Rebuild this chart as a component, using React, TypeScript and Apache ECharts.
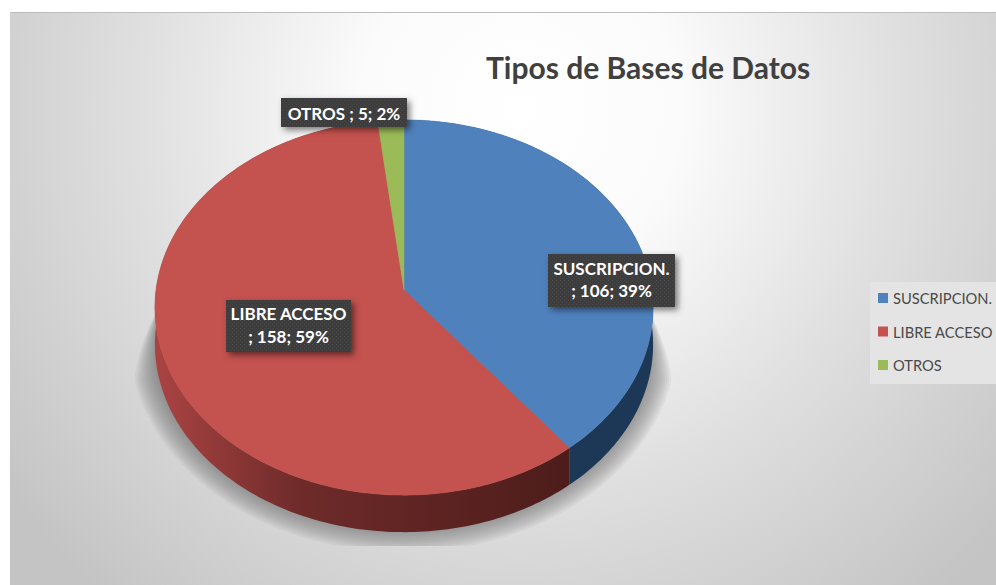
import React, { useEffect, useRef } from "react";
import * as echarts from "echarts";

const categories = ["SUSCRIPCION.", "LIBRE ACCESO", "OTROS"];
const values = [106, 158, 5];
const percents = [39, 59, 2];
const topColors = ["#4f81bd", "#c4524f", "#9bbb59"];

const FONT = "Lato, Carlito, Calibri, sans-serif";
const APEX_X = 404;
const APEX_Y = 290;
const SCALE_X = 248;
const SCALE_Y = 186;
const PERSPECTIVE = 0.0933;
const DEPTH = 37;

const labelBoxes = [
  { x: 548, y: 254, w: 127, h: 53, dy: -1 },
  { x: 226, y: 300, w: 125, h: 52, dy: -1 },
  { x: 281, y: 98, w: 126, h: 29, dy: 1 },
];

const total = values.reduce((a, b) => a + b, 0);

function project(angleDeg: number, dy = 0): number[] {
  const a = (angleDeg * Math.PI) / 180;
  const u = Math.sin(a);
  const v = -Math.cos(a);
  const d = 1 - PERSPECTIVE * v;
  return [APEX_X + (SCALE_X * u) / d, APEX_Y + (SCALE_Y * v) / d + dy];
}

function arc(start: number, end: number, dy = 0): number[][] {
  const pts: number[][] = [];
  const n = Math.max(2, Math.ceil(end - start));
  for (let i = 0; i <= n; i++) pts.push(project(start + ((end - start) * i) / n, dy));
  return pts;
}

// Soft shadow outline: tapers into the pie's edge towards the top, flat at the bottom.
function shadowOutline(cx: number, cy: number, rx: number, ry: number, yMax: number): number[][] {
  const pts: number[][] = [];
  for (let i = 0; i < 180; i++) {
    const a = (i * Math.PI) / 90;
    const y = cy + ry * Math.sin(a);
    const t = Math.min(1, Math.max(0, (y - 300) / 80));
    const r = 244 + (rx - 244) * t;
    pts.push([cx + r * Math.cos(a), Math.min(yMax, y)]);
  }
  return pts;
}

function makeDots(): HTMLCanvasElement {
  const c = document.createElement("canvas");
  c.width = 4;
  c.height = 4;
  const g = c.getContext("2d")!;
  g.fillStyle = "#3c3c3c";
  g.fillRect(0, 0, 4, 4);
  g.fillStyle = "#4a4a4a";
  g.fillRect(0, 0, 1, 1);
  g.fillRect(2, 2, 1, 1);
  return c;
}

export default function App() {
  const ref = useRef<HTMLDivElement>(null);
  useEffect(() => {
    document.body.style.margin = "0";
    const chart = echarts.init(ref.current!, null, { renderer: "svg" });
    const dots = makeDots();
    const sideFills = [
      "#1d3757",
      new echarts.graphic.LinearGradient(
        160, 0, 560, 0,
        [
          { offset: 0, color: "#a84342" },
          { offset: 0.35, color: "#6e2b2a" },
          { offset: 1, color: "#4e1d1b" },
        ],
        true
      ),
      "#5c7034",
    ];
    const series = categories.map((name, idx) => {
      const before = values.slice(0, idx).reduce((a, b) => a + b, 0);
      return {
        type: "custom",
        name,
        coordinateSystem: "none",
        silent: true,
        z: 3,
        itemStyle: { color: topColors[idx] },
        data: [[values[idx]]],
        renderItem: (_p: any, api: any) => {
          const v = api.value(0);
          const start = (before / total) * 360;
          const end = ((before + v) / total) * 360;
          const top = arc(start, end);
          const bottom = arc(start, end, DEPTH).reverse();
          const box = labelBoxes[idx];
          const text =
            name === "OTROS"
              ? `${name} ; ${v}; ${percents[idx]}%`
              : `${name}\n; ${v}; ${percents[idx]}%`;
          return {
            type: "group",
            children: [
              {
                type: "polygon",
                z2: 1,
                shape: { points: [...top, ...bottom] },
                style: { fill: sideFills[idx] },
              },
              {
                type: "polygon",
                z2: 5,
                shape: { points: [[APEX_X, APEX_Y], ...top] },
                style: { fill: topColors[idx], stroke: topColors[idx], lineWidth: 0.5 },
              },
              {
                type: "rect",
                z2: 10,
                shape: { x: box.x, y: box.y, width: box.w, height: box.h },
                style: {
                  fill: { image: dots, repeat: "repeat", imageWidth: 4, imageHeight: 4 },
                  shadowBlur: 6,
                  shadowOffsetX: 3,
                  shadowOffsetY: 3,
                  shadowColor: "rgba(0,0,0,0.5)",
                },
              },
              {
                type: "text",
                z2: 11,
                style: {
                  x: box.x + box.w / 2,
                  y: box.y + box.h / 2 + box.dy,
                  text,
                  fill: "#ffffff",
                  font: `bold 17px ${FONT}`,
                  lineHeight: 22.5,
                  align: "center",
                  verticalAlign: "middle",
                },
              },
            ],
          };
        },
      };
    });

    const shadowRings = Array.from({ length: 12 }, (_, i) => {
      const grow = 24 - i * 2;
      return {
        type: "polygon",
        silent: true,
        shape: { points: shadowOutline(403, 338, 250 + grow, 190 + grow, 546) },
        style: { fill: "rgba(105,107,107,0.075)" },
      };
    });

    chart.setOption({
      animation: false,
      backgroundColor: "#ffffff",
      title: {
        text: "Tipos de Bases de Datos",
        left: 486,
        top: 52,
        padding: 0,
        textStyle: { color: "#404040", fontFamily: FONT, fontSize: 30, fontWeight: "bold" },
      },
      legend: {
        orient: "vertical",
        left: 870,
        top: 282,
        padding: [7, 4, 10, 8],
        backgroundColor: "#e4e4e4",
        itemWidth: 10,
        itemHeight: 10,
        itemGap: 15.5,
        icon: "rect",
        data: categories,
        selectedMode: false,
        textStyle: { color: "#4a4a4a", fontFamily: FONT, fontSize: 14.7, lineHeight: 18 },
      },
      graphic: [
        {
          type: "rect",
          silent: true,
          shape: { x: 10, y: 12, width: 986, height: 573 },
          style: {
            fill: new echarts.graphic.RadialGradient(
              520, 110, 640,
              [
                { offset: 0, color: "#ffffff" },
                { offset: 0.25, color: "#fbfbfb" },
                { offset: 0.6, color: "#dfdfdf" },
                { offset: 1, color: "#c4c4c4" },
              ],
              true
            ),
          },
        },
        {
          type: "line",
          silent: true,
          shape: { x1: 10, y1: 12.5, x2: 996, y2: 12.5 },
          style: { stroke: "#bdbdbd", lineWidth: 1 },
        },
        ...shadowRings,
      ],
      series,
    });
    return () => chart.dispose();
  }, []);
  return <div ref={ref} style={{ position: "absolute", left: 0, top: 0, width: 996, height: 585 }} />;
}
